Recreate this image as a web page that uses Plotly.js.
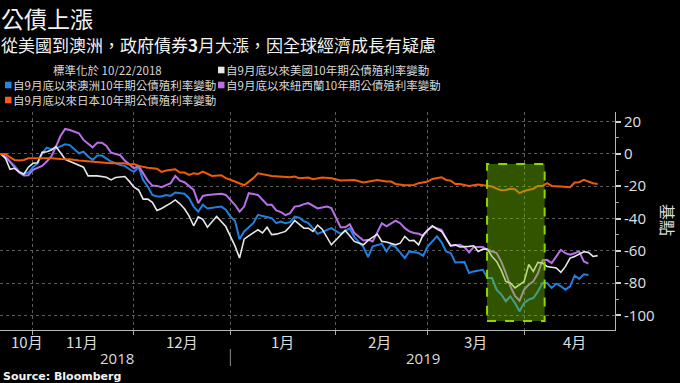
<!DOCTYPE html>
<html>
<head>
<meta charset="utf-8">
<script src="https://cdn.plot.ly/plotly-3.0.1.min.js"></script>
<style>html,body{margin:0;padding:0;background:#000;}#chart{width:680px;height:383px;}</style>
</head>
<body>
<div id="chart"></div>
<script>
// ---------- DATA ----------
const seriesNames = [
  '自9月底以來美國10年期公債殖利率變動',
  '自9月底以來澳洲10年期公債殖利率變動',
  '自9月底以來紐西蘭10年期公債殖利率變動',
  '自9月底以來日本10年期公債殖利率變動'
];
const noteText = '標準化於 10/22/2018';
const titleText = '公債上漲';
const subtitleText = '從美國到澳洲，政府債券<b>3</b>月大漲，因全球經濟成長有疑慮';
const sourceText = 'Source: Bloomberg';
const yTitleText = '基點';

const usSeries = [
 ['2018-10-22',0],['2018-10-23',0],['2018-10-24',-2.7],['2018-10-25',-9.5],['2018-10-26',-8.9],
 ['2018-10-29',-11.3],['2018-10-30',-12.6],['2018-10-31',-8.2],['2018-11-01',-5.8],['2018-11-02',-5.4],
 ['2018-11-05',1.0],['2018-11-06',1.4],['2018-11-07',2.5],['2018-11-08',4.5],['2018-11-09',0.8],
 ['2018-11-12',-3.3],['2018-11-14',-5.8],['2018-11-16',-8.2],['2018-11-19',-13.6],['2018-11-21',-13.6],
 ['2018-11-23',-14.4],['2018-11-26',-16.1],['2018-11-27',-14.6],['2018-11-29',-14.0],['2018-11-30',-17.0],
 ['2018-12-03',-20.6],['2018-12-04',-22.3],['2018-12-05',-28.0],['2018-12-06',-28.0],['2018-12-07',-30.0],
 ['2018-12-10',-35.0],['2018-12-11',-33.8],['2018-12-13',-30.5],['2018-12-14',-28.5],['2018-12-17',-30.9],
 ['2018-12-18',-34.0],['2018-12-19',-38.4],['2018-12-20',-44.5],['2018-12-21',-39.0],['2018-12-24',-40.5],
 ['2018-12-25',-45.4],['2018-12-27',-38.8],['2018-12-31',-45.0],['2019-01-01',-51.0],['2019-01-02',-57.0],
 ['2019-01-03',-64.5],['2019-01-04',-52.8],['2019-01-07',-50.8],['2019-01-09',-47.0],['2019-01-10',-49.0],
 ['2019-01-11',-45.4],['2019-01-14',-50.0],['2019-01-15',-49.7],['2019-01-17',-48.0],['2019-01-18',-45.0],
 ['2019-01-21',-41.2],['2019-01-22',-43.9],['2019-01-23',-46.0],['2019-01-24',-46.0],['2019-01-25',-48.0],
 ['2019-01-28',-44.1],['2019-01-29',-46.6],['2019-01-31',-56.3],['2019-02-04',-50.7],['2019-02-05',-47.4],
 ['2019-02-06',-50.7],['2019-02-07',-54.2],['2019-02-11',-56.3],['2019-02-12',-53.6],['2019-02-14',-49.7],
 ['2019-02-15',-54.2],['2019-02-18',-54.6],['2019-02-20',-56.3],['2019-02-21',-55.3],['2019-02-22',-51.1],
 ['2019-02-25',-53.8],['2019-02-26',-53.6],['2019-02-27',-56.3],['2019-02-28',-50.1],['2019-03-04',-44.5],
 ['2019-03-05',-46.6],['2019-03-06',-48.0],['2019-03-07',-52.2],['2019-03-08',-56.9],['2019-03-11',-56.3],
 ['2019-03-12',-57.7],['2019-03-14',-57.3],['2019-03-15',-56.9],['2019-03-18',-60.4],['2019-03-19',-59.0],
 ['2019-03-20',-59.0],['2019-03-21',-63.5],['2019-03-22',-66.6],['2019-03-25',-72.0],['2019-03-26',-79.0],
 ['2019-03-27',-80.0],['2019-03-28',-83.0],['2019-03-29',-81.0],['2019-04-01',-79.0],['2019-04-02',-68.5],
 ['2019-04-03',-72.8],['2019-04-04',-67.2],['2019-04-05',-67.6],['2019-04-08',-69.7],['2019-04-10',-70.7],
 ['2019-04-11',-73.4],['2019-04-12',-69.7],['2019-04-15',-64.5],['2019-04-16',-63.5],['2019-04-18',-60.6],
 ['2019-04-19',-61.0],['2019-04-22',-63.5],['2019-04-23',-63.0]
];

const auSeries = [
 ['2018-10-22',0],['2018-10-23',0],['2018-10-24',-2.1],['2018-10-25',-4.7],['2018-10-26',-7.5],
 ['2018-10-29',-10.9],['2018-10-30',-12.4],['2018-10-31',-11.5],['2018-11-01',-8.2],['2018-11-02',-5.8],
 ['2018-11-05',0.4],['2018-11-06',3.9],['2018-11-07',2.9],['2018-11-08',3.5],['2018-11-12',6.0],
 ['2018-11-13',5.5],['2018-11-14',3.0],['2018-11-15',0.4],['2018-11-16',1.4],['2018-11-19',-1.6],
 ['2018-11-20',-3.7],['2018-11-21',-1.0],['2018-11-22',-1.0],['2018-11-23',-2.7],['2018-11-26',-4.7],
 ['2018-11-28',-6.8],['2018-11-29',-7.4],['2018-11-30',-9.5],['2018-12-03',-11.1],['2018-12-04',-8.2],
 ['2018-12-05',-16.1],['2018-12-06',-20.2],['2018-12-07',-25.4],['2018-12-10',-26.4],['2018-12-11',-26.4],
 ['2018-12-12',-25.4],['2018-12-13',-26.0],['2018-12-14',-23.9],['2018-12-18',-24.7],['2018-12-19',-27.4],
 ['2018-12-20',-32.6],['2018-12-21',-35.7],['2018-12-24',-31.5],['2018-12-25',-33.8],['2018-12-27',-33.2],
 ['2018-12-28',-32.6],['2018-12-31',-34.6],['2019-01-01',-38.8],['2019-01-02',-41.4],['2019-01-03',-52.8],
 ['2019-01-04',-48.0],['2019-01-08',-42.9],['2019-01-09',-37.7],['2019-01-11',-39.2],['2019-01-14',-39.8],
 ['2019-01-15',-42.9],['2019-01-16',-41.9],['2019-01-17',-42.9],['2019-01-18',-42.3],['2019-01-21',-38.8],
 ['2019-01-22',-39.5],['2019-01-23',-41.6],['2019-01-24',-42.9],['2019-01-28',-49.5],['2019-01-30',-47.0],
 ['2019-01-31',-46.0],['2019-02-04',-49.5],['2019-02-06',-46.0],['2019-02-07',-51.5],['2019-02-11',-57.7],
 ['2019-02-12',-63.9],['2019-02-13',-57.3],['2019-02-15',-55.7],['2019-02-18',-60.4],['2019-02-19',-56.3],
 ['2019-02-20',-57.7],['2019-02-22',-64.5],['2019-02-25',-60.4],['2019-02-27',-61.4],['2019-02-28',-63.1],
 ['2019-03-01',-57.3],['2019-03-05',-51.1],['2019-03-06',-54.8],['2019-03-07',-60.4],['2019-03-08',-61.4],
 ['2019-03-11',-67.2],['2019-03-13',-67.0],['2019-03-14',-73.8],['2019-03-15',-72.8],['2019-03-19',-71.8],
 ['2019-03-20',-76.9],['2019-03-21',-76.9],['2019-03-22',-84.1],['2019-03-25',-87.0],['2019-03-26',-91.3],
 ['2019-03-27',-88.2],['2019-03-28',-92.4],['2019-03-29',-97.5],['2019-04-01',-92.4],['2019-04-02',-90.3],
 ['2019-04-03',-89.3],['2019-04-04',-85.2],['2019-04-05',-80.0],['2019-04-08',-80.0],['2019-04-09',-83.0],
 ['2019-04-10',-80.4],['2019-04-11',-82.0],['2019-04-12',-84.1],['2019-04-15',-82.0],['2019-04-16',-75.3],
 ['2019-04-17',-77.5],['2019-04-18',-74.6],['2019-04-19',-75.0]
];

const nzSeries = [
 ['2018-10-22',0],['2018-10-23',0],['2018-10-24',-1.6],['2018-10-25',-4.7],['2018-10-26',-8.5],
 ['2018-10-29',-11.5],['2018-10-30',-13.4],['2018-10-31',-13.2],['2018-11-01',-9.9],['2018-11-05',-7.4],
 ['2018-11-06',-4.7],['2018-11-07',-1.6],['2018-11-08',4.5],['2018-11-09',11.1],['2018-11-12',15.5],
 ['2018-11-13',14.8],['2018-11-15',12.8],['2018-11-16',8.7],['2018-11-20',4.1],['2018-11-21',7.0],
 ['2018-11-22',7.0],['2018-11-23',5.0],['2018-11-26',0.8],['2018-11-28',-0.8],['2018-11-29',-4.1],
 ['2018-11-30',-6.8],['2018-12-03',-8.9],['2018-12-04',-7.4],['2018-12-05',-12.0],['2018-12-06',-16.5],
 ['2018-12-07',-19.6],['2018-12-10',-19.8],['2018-12-11',-20.6],['2018-12-13',-18.1],['2018-12-14',-13.6],
 ['2018-12-17',-16.5],['2018-12-18',-17.5],['2018-12-19',-19.8],['2018-12-20',-22.3],['2018-12-21',-30.5],
 ['2018-12-24',-26.0],['2018-12-25',-25.5],['2018-12-28',-24.7],['2018-12-31',-25.4],['2019-01-02',-31.5],
 ['2019-01-03',-35.7],['2019-01-04',-32.6],['2019-01-07',-24.3],['2019-01-09',-25.4],['2019-01-11',-31.5],
 ['2019-01-14',-31.5],['2019-01-15',-35.0],['2019-01-16',-36.0],['2019-01-17',-37.9],['2019-01-18',-36.7],
 ['2019-01-21',-32.6],['2019-01-22',-32.2],['2019-01-23',-31.1],['2019-01-24',-30.5],['2019-01-28',-33.8],
 ['2019-01-30',-32.6],['2019-01-31',-33.6],['2019-02-04',-45.4],['2019-02-05',-45.4],['2019-02-06',-43.5],
 ['2019-02-07',-49.0],['2019-02-11',-53.6],['2019-02-12',-53.2],['2019-02-13',-54.2],['2019-02-15',-42.9],
 ['2019-02-18',-44.9],['2019-02-20',-41.4],['2019-02-21',-42.9],['2019-02-22',-46.0],['2019-02-25',-48.0],
 ['2019-02-26',-49.0],['2019-02-27',-49.5],['2019-02-28',-50.7],['2019-03-01',-47.0],['2019-03-04',-45.0],
 ['2019-03-06',-47.0],['2019-03-07',-52.2],['2019-03-08',-56.9],['2019-03-12',-56.3],['2019-03-13',-57.7],
 ['2019-03-14',-61.0],['2019-03-15',-57.7],['2019-03-19',-57.7],['2019-03-20',-59.4],['2019-03-22',-61.4],
 ['2019-03-25',-66.6],['2019-03-26',-73.8],['2019-03-27',-82.0],['2019-03-28',-88.0],['2019-03-29',-91.0],
 ['2019-04-01',-84.0],['2019-04-02',-81.0],['2019-04-03',-79.0],['2019-04-04',-74.0],['2019-04-05',-66.0],
 ['2019-04-08',-65.6],['2019-04-09',-67.6],['2019-04-10',-63.5],['2019-04-11',-59.4],['2019-04-12',-61.5],
 ['2019-04-15',-62.5],['2019-04-16',-61.5],['2019-04-17',-60.4],['2019-04-18',-66.6],['2019-04-19',-68.0]
];

const jpSeries = [
 ['2018-10-22',0],['2018-10-23',0],['2018-10-24',0],['2018-10-25',-2.1],['2018-10-26',-3.7],
 ['2018-10-29',-4.1],['2018-10-30',-3.7],['2018-10-31',-2.7],['2018-11-01',-2.7],['2018-11-05',-2.3],
 ['2018-11-07',-2.7],['2018-11-09',-3.1],['2018-11-13',-3.3],['2018-11-15',-4.1],['2018-11-19',-4.7],
 ['2018-11-22',-5.4],['2018-11-23',-5.8],['2018-11-26',-5.8],['2018-11-29',-5.8],['2018-11-30',-6.6],
 ['2018-12-03',-6.2],['2018-12-04',-7.4],['2018-12-06',-8.5],['2018-12-10',-9.1],['2018-12-11',-11.1],
 ['2018-12-12',-10.3],['2018-12-14',-9.5],['2018-12-17',-11.5],['2018-12-18',-11.5],['2018-12-19',-13.0],
 ['2018-12-20',-12.0],['2018-12-21',-12.4],['2018-12-24',-10.9],['2018-12-26',-13.6],['2018-12-28',-13.2],
 ['2018-12-31',-15.0],['2019-01-02',-17.1],['2019-01-04',-19.4],['2019-01-08',-15.0],['2019-01-09',-12.0],
 ['2019-01-14',-13.6],['2019-01-16',-14.0],['2019-01-18',-14.4],['2019-01-21',-14.0],['2019-01-22',-15.0],
 ['2019-01-24',-14.6],['2019-01-25',-15.7],['2019-01-29',-14.6],['2019-01-31',-15.0],['2019-02-04',-16.5],
 ['2019-02-06',-16.5],['2019-02-07',-16.1],['2019-02-11',-17.7],['2019-02-13',-16.7],['2019-02-14',-16.1],
 ['2019-02-18',-17.1],['2019-02-19',-17.1],['2019-02-20',-18.6],['2019-02-22',-19.4],['2019-02-26',-19.2],
 ['2019-02-27',-18.1],['2019-03-01',-17.1],['2019-03-04',-15.5],['2019-03-06',-14.4],['2019-03-07',-16.1],
 ['2019-03-08',-16.5],['2019-03-11',-18.6],['2019-03-12',-18.6],['2019-03-14',-19.8],['2019-03-18',-19.0],
 ['2019-03-19',-19.4],['2019-03-20',-19.4],['2019-03-21',-20.2],['2019-03-22',-21.5],['2019-03-25',-22.5],
 ['2019-03-26',-22.3],['2019-03-27',-21.6],['2019-03-28',-21.8],['2019-03-29',-24.3],['2019-04-01',-22.9],
 ['2019-04-02',-22.3],['2019-04-03',-21.6],['2019-04-04',-19.8],['2019-04-05',-19.8],['2019-04-08',-18.1],
 ['2019-04-09',-19.8],['2019-04-11',-20.2],['2019-04-15',-20.6],['2019-04-16',-17.7],['2019-04-17',-17.5],
 ['2019-04-18',-16.1],['2019-04-22',-18.1],['2019-04-23',-18.6]
];

const monthStarts = ['2018-11-01','2018-12-03','2019-01-01','2019-02-01','2019-03-01','2019-04-01'];
const monthLabels = ['10月','11月','12月','1月','2月','3月','4月'];
const monthLabelAt = ['2018-10-30 17:00','2018-11-15 17:00','2018-12-17 12:00','2019-01-16 07:00','2019-02-14 10:00','2019-03-15 07:00','2019-04-16 00:00'];
const yearLabels = ['2018','2019'];
const yearLabelAt = ['2018-11-27 07:00','2019-02-28 00:00'];
const yTickVals = [20,0,-20,-40,-60,-80,-100];
const yTickText = ['20','0','-20','-40','-60','-80','-100'];
const rallyWindow = {start:'2019-03-19 22:00', end:'2019-04-05 11:00', top:-6.2, bottom:-103.5};

// ---------- STYLE ----------
const colors = {us:'#e8e8e8', au:'#1f80e0', nz:'#b870e8', jp:'#f25a05'};
const CJK = '"Noto Sans CJK TC", "Noto Sans", sans-serif';

function mk(series, name, color, width){
  return {type:'scatter', mode:'lines', name:name,
    x: series.map(p=>p[0]), y: series.map(p=>p[1]),
    line:{color:color, width:width}, hoverinfo:'skip'};
}
const traces = [
  mk(auSeries, seriesNames[1], colors.au, 2),
  mk(nzSeries, seriesNames[2], colors.nz, 2),
  mk(usSeries, seriesNames[0], colors.us, 1.6),
  mk(jpSeries, seriesNames[3], colors.jp, 2)
];

const plotW = 615, plotTop = 112, plotBot = 330, plotH = plotBot - plotTop;
const px2x = v => v / plotW;
const py2y = v => (plotBot - v) / plotH;

const annotations = [];
const shapes = [];
annotations.push({xref:'paper', yref:'paper', x:px2x(0), y:py2y(18), xanchor:'left', yanchor:'middle',
  text:titleText, showarrow:false, borderpad:0, font:{family:CJK, size:23, color:'#f2f2f2'}});
annotations.push({xref:'paper', yref:'paper', x:px2x(0), y:py2y(44), xanchor:'left', yanchor:'middle',
  text:subtitleText, showarrow:false, borderpad:0, font:{family:CJK, size:17, color:'#f2f2f2'}});
annotations.push({xref:'paper', yref:'paper', x:px2x(107), y:py2y(70), xanchor:'center', yanchor:'middle',
  text:noteText, showarrow:false, borderpad:0, height:12, font:{family:CJK, size:11.5, color:'#d8d8d8'}});

// legend entries
const legendSpec = [
  {name:seriesNames[0], color:colors.us, sx:218, ty:70},
  {name:seriesNames[1], color:'#1e88e5', sx:5, ty:85},
  {name:seriesNames[2], color:colors.nz, sx:218, ty:85},
  {name:seriesNames[3], color:'#fb5b0b', sx:5, ty:100}
];
legendSpec.forEach(e=>{
  shapes.push({type:'rect', xref:'paper', yref:'paper', x0:px2x(e.sx), x1:px2x(e.sx+6.5),
    y0:py2y(e.ty-3.3), y1:py2y(e.ty+3.3), fillcolor:e.color, line:{width:0}, layer:'above'});
  annotations.push({xref:'paper', yref:'paper', x:px2x(e.sx+7), y:py2y(e.ty), xanchor:'left', yanchor:'middle',
    text:e.name, showarrow:false, borderpad:0, height:12, font:{family:CJK, size:11.5, color:'#d8d8d8'}});
});

monthLabels.forEach((t,i)=>{
  annotations.push({xref:'x', yref:'paper', x:monthLabelAt[i], y:py2y(341), xanchor:'center', yanchor:'middle',
    text:t, showarrow:false, borderpad:0, font:{family:CJK, size:15, color:'#dcdcdc'}});
});
yearLabels.forEach((t,i)=>{
  annotations.push({xref:'x', yref:'paper', x:yearLabelAt[i], y:py2y(357.5), xanchor:'center', yanchor:'middle',
    text:t, showarrow:false, borderpad:0, font:{family:'"Open Sans", sans-serif', size:15, color:'#dcdcdc'}});
});
annotations.push({xref:'paper', yref:'paper', x:px2x(668), y:py2y(220), xanchor:'center', yanchor:'middle',
  text:yTitleText, textangle:90, showarrow:false, borderpad:0, font:{family:CJK, size:16, color:'#dcdcdc'}});
annotations.push({xref:'paper', yref:'paper', x:px2x(2), y:py2y(376), xanchor:'left', yanchor:'middle',
  text:'<b>'+sourceText+'</b>', showarrow:false, borderpad:0, font:{family:'"DejaVu Sans", sans-serif', size:11, color:'#f2f2f2'}});

// year divider
shapes.push({type:'line', xref:'x', yref:'paper', x0:'2019-01-01', x1:'2019-01-01',
  y0:py2y(349), y1:py2y(366), line:{color:'#8a8a8a', width:1}});
// rally window
shapes.push({type:'rect', xref:'x', yref:'y', x0:rallyWindow.start, x1:rallyWindow.end,
  y0:rallyWindow.bottom, y1:rallyWindow.top, fillcolor:'rgba(120,200,0,0.42)',
  line:{color:'#8ed600', width:2, dash:'dash'}, layer:'above'});

const layout = {
  width:680, height:383,
  paper_bgcolor:'#000', plot_bgcolor:'#000',
  margin:{l:0, r:65, t:112, b:53, pad:0},
  showlegend:false,
  font:{family:CJK, color:'#dcdcdc'},
  xaxis:{type:'date', range:['2018-10-22 19:30','2019-04-26 19:00'],
    rangebreaks:[{bounds:['sat','mon']}],
    tickmode:'array', tickvals:monthStarts, showticklabels:false,
    ticks:'outside', ticklen:4, tickcolor:'#aaaaaa',
    showgrid:true, gridcolor:'#5c5c5c', griddash:'dot', gridwidth:1,
    showline:true, linecolor:'#b5b5b5', linewidth:1, zeroline:false, fixedrange:true},
  yaxis:{side:'right', range:[-109.1, 26],
    tickmode:'array', tickvals:yTickVals, ticktext:yTickText,
    ticks:'outside', ticklen:5, tickwidth:2, tickcolor:'#d0d0d0',
    minor:{tickmode:'linear', tick0:10, dtick:20, ticks:'outside', ticklen:3, tickcolor:'#aaaaaa', tickwidth:1, showgrid:false},
    showgrid:true, gridcolor:'#5c5c5c', griddash:'dot', gridwidth:1,
    showline:true, linecolor:'#b5b5b5', linewidth:1, zeroline:false, fixedrange:true,
    tickfont:{family:'"Open Sans", sans-serif', size:15, color:'#e0e0e0'}},
  annotations:annotations,
  shapes:shapes
};

Plotly.newPlot('chart', traces, layout, {staticPlot:true, displayModeBar:false});
</script>
</body>
</html>
